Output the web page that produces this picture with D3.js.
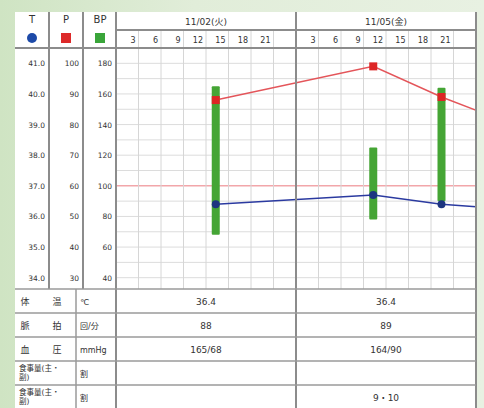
<!DOCTYPE html>
<html>
<head>
<meta charset="utf-8">
<script src="https://cdn.jsdelivr.net/npm/d3@7"></script>
<style>
  body { margin: 0; }
  text { font-family: "DejaVu Sans", "Noto Sans CJK JP", sans-serif; fill: #333; }
</style>
</head>
<body>
<div id="chart"></div>
<script>
// data
var days = ["11/02(火)", "11/05(金)"];
var hourTicks = [3, 6, 9, 12, 15, 18, 21];
var tTicks = [41, 40, 39, 38, 37, 36, 35, 34];
var pTicks = [100, 90, 80, 70, 60, 50, 40, 30];
var bpTicks = [180, 160, 140, 120, 100, 80, 60, 40];

// observations (day index, hour); last one lies past the right edge
var obsDay = [0, 1, 1, 2];
var obsHour = [13.3, 10.3, 19.4, 6];
var temps = [36.4, 36.7, 36.4, 36.2];
var pulses = [88, 99, 89, 79];
var bpHigh = [165, 125, 164];
var bpLow = [68, 78, 90];

var rowLabels = [["体", "温"], ["脈", "拍"], ["血", "圧"], ["食事量(主・", "副)"], ["食事量(主・", "副)"]];
var rowUnits = ["℃", "回/分", "mmHg", "割", "割"];
var rowValues = [["36.4", "36.4"], ["88", "89"], ["165/68", "164/90"], ["", ""], ["", "9・10"]];

var svgWidth = 484, svgHeight = 408;
var panelLeft = 15, panelRight = 476, panelTop = 12;
var colT = 49, colP = 83, plotLeft = 116;
var hdrMid = 30, plotTop = 48, plotBottom = 289, rowH = 24;

var svg = d3.select("#chart").append("svg")
  .attr("width", svgWidth)
  .attr("height", svgHeight);

// green backdrop
var grad = svg.append("defs").append("linearGradient").attr("id", "bg");
grad.append("stop").attr("offset", "0%").attr("stop-color", "#cfe4c3");
grad.append("stop").attr("offset", "40%").attr("stop-color", "#e1edd9");
grad.append("stop").attr("offset", "100%").attr("stop-color", "#e8f1e2");
svg.append("rect").attr("width", svgWidth).attr("height", svgHeight).attr("fill", "url(#bg)");
svg.append("rect").attr("x", panelLeft).attr("y", panelTop)
  .attr("width", panelRight - panelLeft).attr("height", svgHeight - panelTop).attr("fill", "#fff");

// scales
var x = d3.scaleLinear().domain([0, days.length * 24]).range([plotLeft, panelRight]);
var xt = (d, h) => x(d * 24 + h);
var yT = d3.scaleLinear().domain([33.5, 41.5]).range([293, plotTop]);
var yP = d3.scaleLinear().domain([25, 105]).range([293, plotTop]);
var yBP = d3.scaleLinear().domain([30, 190]).range([293, plotTop]);

svg.append("clipPath").attr("id", "plot").append("rect")
  .attr("x", plotLeft).attr("y", plotTop).attr("width", panelRight - plotLeft).attr("height", plotBottom - plotTop);

// grid
var grid = svg.append("g");
var halfSteps = d3.range(33.5, 41.51, 0.5).filter(v => yT(v) > plotTop + 1 && yT(v) < plotBottom - 1);
grid.selectAll(".hg").data(halfSteps).enter().append("line")
  .attr("x1", plotLeft).attr("x2", panelRight)
  .attr("y1", d => yT(d)).attr("y2", d => yT(d))
  .attr("stroke", d => d === 37 ? "#f2a6aa" : "#dcdcdc")
  .attr("stroke-width", d => d === 37 ? 1.5 : 1);

var vHours = [];
days.forEach((d, i) => hourTicks.forEach(h => vHours.push({ d: i, h: h })));
grid.selectAll(".vg").data(vHours).enter().append("line")
  .attr("x1", d => xt(d.d, d.h)).attr("x2", d => xt(d.d, d.h))
  .attr("y1", hdrMid).attr("y2", plotBottom)
  .attr("stroke", "#d6d6d6");

// BP bars
var plot = svg.append("g").attr("clip-path", "url(#plot)");
plot.selectAll(".bp").data(bpHigh).enter().append("rect")
  .attr("x", (d, i) => xt(obsDay[i], obsHour[i]) - 4)
  .attr("y", d => yBP(d))
  .attr("width", 8)
  .attr("height", (d, i) => yBP(bpLow[i]) - yBP(d))
  .attr("rx", 1)
  .attr("fill", "#45a535");

// pulse + temperature lines
var pts = obsDay.map((d, i) => i);
plot.append("path")
  .attr("d", d3.line().x(i => xt(obsDay[i], obsHour[i])).y(i => yP(pulses[i]))(pts))
  .attr("fill", "none").attr("stroke", "#e4555a").attr("stroke-width", 1.5);
plot.append("path")
  .attr("d", d3.line().x(i => xt(obsDay[i], obsHour[i])).y(i => yT(temps[i]))(pts))
  .attr("fill", "none").attr("stroke", "#2b3aa0").attr("stroke-width", 1.5);
plot.selectAll(".pm").data(pts).enter().append("rect")
  .attr("x", i => xt(obsDay[i], obsHour[i]) - 4)
  .attr("y", i => yP(pulses[i]) - 4)
  .attr("width", 8).attr("height", 8)
  .attr("fill", "#dd2525");
plot.selectAll(".tm").data(pts).enter().append("circle")
  .attr("cx", i => xt(obsDay[i], obsHour[i]))
  .attr("cy", i => yT(temps[i]))
  .attr("r", 4)
  .attr("fill", "#1d3580");

// frame lines
var frame = svg.append("g").attr("stroke", "#8c8c8c").attr("stroke-width", 2);
[colT, colP].forEach(cx => frame.append("line").attr("x1", cx).attr("x2", cx).attr("y1", panelTop).attr("y2", plotBottom));
days.forEach((d, i) => frame.append("line")
  .attr("x1", x(i * 24)).attr("x2", x(i * 24)).attr("y1", panelTop).attr("y2", svgHeight));
frame.append("line").attr("x1", panelRight).attr("x2", panelRight).attr("y1", panelTop).attr("y2", svgHeight);
frame.append("line").attr("x1", plotLeft).attr("x2", panelRight).attr("y1", hdrMid).attr("y2", hdrMid);
frame.append("line").attr("x1", panelLeft).attr("x2", panelRight).attr("y1", plotTop).attr("y2", plotTop);

// header legend
var legendX = [32, 66, 100];
var legendText = ["T", "P", "BP"];
svg.selectAll(".lt").data(legendText).enter().append("text")
  .attr("x", (d, i) => legendX[i]).attr("y", 23)
  .attr("text-anchor", "middle").attr("font-size", 10).text(d => d);
svg.append("circle").attr("cx", legendX[0]).attr("cy", 38).attr("r", 5).attr("fill", "#1d4aa8");
svg.append("rect").attr("x", legendX[1] - 5).attr("y", 33).attr("width", 10).attr("height", 10).attr("fill", "#dd2a2a");
svg.append("rect").attr("x", legendX[2] - 5).attr("y", 33).attr("width", 10).attr("height", 10).attr("fill", "#3aa53a");

// date + hour labels
svg.selectAll(".day").data(days).enter().append("text")
  .attr("x", (d, i) => xt(i, 12)).attr("y", 25)
  .attr("text-anchor", "middle").attr("font-size", 9).text(d => d);
svg.selectAll(".hr").data(vHours).enter().append("text")
  .attr("x", d => xt(d.d, d.h) - 3).attr("y", 43)
  .attr("text-anchor", "end").attr("font-size", 8).text(d => d.h);

// value axes
svg.selectAll(".tt").data(tTicks).enter().append("text")
  .attr("x", colT - 4).attr("y", d => yT(d) + 3)
  .attr("text-anchor", "end").attr("font-size", 7.5).text(d => d.toFixed(1));
svg.selectAll(".pt").data(pTicks).enter().append("text")
  .attr("x", colP - 4).attr("y", (d, i) => yT(tTicks[i]) + 3)
  .attr("text-anchor", "end").attr("font-size", 7.5).text(d => d);
svg.selectAll(".bt").data(bpTicks).enter().append("text")
  .attr("x", plotLeft - 4).attr("y", (d, i) => yT(tTicks[i]) + 3)
  .attr("text-anchor", "end").attr("font-size", 7.5).text(d => d);

// bottom table
var table = svg.append("g");
var rowY = d3.range(rowLabels.length + 1).map(i => plotBottom + i * rowH);
table.selectAll(".rl").data(rowY).enter().append("line")
  .attr("x1", panelLeft).attr("x2", panelRight).attr("y1", d => d).attr("y2", d => d)
  .attr("stroke", "#9a9a9a").attr("stroke-width", 1.5);
table.append("line").attr("x1", 76).attr("x2", 76).attr("y1", plotBottom).attr("y2", svgHeight)
  .attr("stroke", "#9a9a9a").attr("stroke-width", 1.5);

rowLabels.forEach(function(lab, r) {
  var cy = rowY[r] + rowH / 2;
  if (lab[0].length === 1) {
    table.append("text").attr("x", 25).attr("y", cy + 4).attr("font-size", 9).attr("text-anchor", "middle").text(lab[0]);
    table.append("text").attr("x", 57).attr("y", cy + 4).attr("font-size", 9).attr("text-anchor", "middle").text(lab[1]);
  } else {
    table.append("text").attr("x", 19).attr("y", cy - 2).attr("font-size", 7.5).text(lab[0]);
    table.append("text").attr("x", 19).attr("y", cy + 7).attr("font-size", 7.5).text(lab[1]);
  }
  table.append("text").attr("x", 80).attr("y", cy + 4).attr("font-size", 8).text(rowUnits[r]);
  rowValues[r].forEach(function(v, c) {
    table.append("text").attr("x", xt(c, 12)).attr("y", cy + 4)
      .attr("text-anchor", "middle").attr("font-size", 9).text(v);
  });
});
</script>
</body>
</html>
